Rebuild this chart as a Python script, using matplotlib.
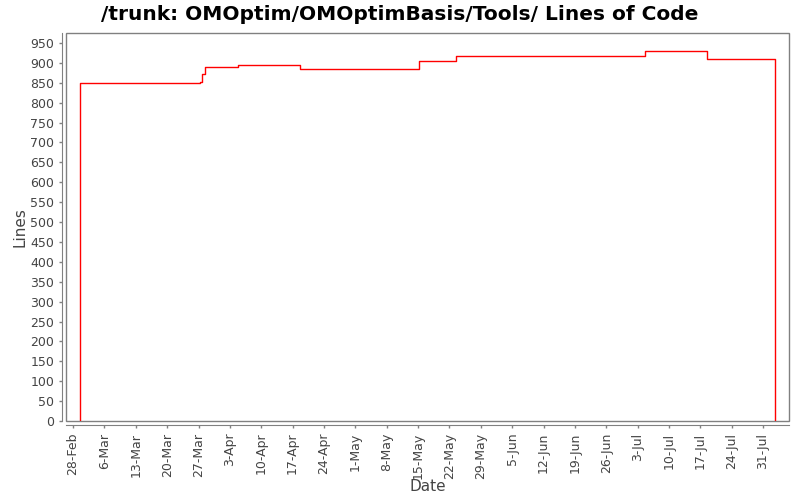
import matplotlib

matplotlib.use("Agg")
import matplotlib.pyplot as plt
import matplotlib.dates as mdates
import pandas as pd
from matplotlib.patches import Rectangle

# cambios de lineas de codigo (fecha del commit, lineas tras el commit)
fechas = [
    "2012-02-29 13:00", "2012-03-27 08:00", "2012-03-27 20:00", "2012-03-28 13:00",
    "2012-04-04 21:00", "2012-04-18 18:00", "2012-05-15 07:00", "2012-05-23 13:00",
    "2012-07-04 18:00", "2012-07-18 10:00", "2012-08-02 15:00",
]
lineas = [850, 852, 871, 889, 894, 884, 904, 917, 929, 909, 0]

ticks_y = list(range(0, 951, 50))
ticks_x = pd.date_range("2012-02-28", "2012-07-31", freq="7D")

fechas = pd.to_datetime(fechas)
# el primer punto arranca desde cero
x = [fechas[0]] + list(fechas)
y = [0] + lineas

fig = plt.figure(figsize=(8, 5), dpi=100)
ax = fig.add_axes([66 / 800, 79 / 500, 723 / 800, 388 / 500])

ax.step(x, y, where="post", color="#ff0000", linewidth=1.0)

ax.set_xlim(pd.Timestamp("2012-02-26 10:00"), pd.Timestamp("2012-08-05 19:00"))
ax.set_ylim(0, 975)
ax.set_yticks(ticks_y)
ax.set_xticks(ticks_x)
ax.xaxis.set_major_formatter(mdates.DateFormatter("%-d-%b"))

gris = "#808080"
for lado in ["top", "right"]:
    ax.spines[lado].set_visible(False)
for lado in ["left", "bottom"]:
    ax.spines[lado].set_position(("outward", 3))
    ax.spines[lado].set_color(gris)
ax.add_patch(Rectangle((0, 0), 1, 1, transform=ax.transAxes, fill=False,
                       edgecolor=gris, linewidth=1.0, clip_on=False))

ax.tick_params(axis="both", colors=gris, labelcolor="#444444", labelsize=9,
               length=2, width=1)
ax.tick_params(axis="x", labelrotation=90)

ax.set_xlabel("Date", fontsize=11, color="#444444", labelpad=0)
ax.set_ylabel("Lines", fontsize=11, color="#444444", labelpad=2)
fig.suptitle("/trunk: OMOptim/OMOptimBasis/Tools/ Lines of Code",
             fontsize=14.5, fontweight="bold", y=0.99, va="top")

fig.savefig("out.png", dpi=100, facecolor="white")
